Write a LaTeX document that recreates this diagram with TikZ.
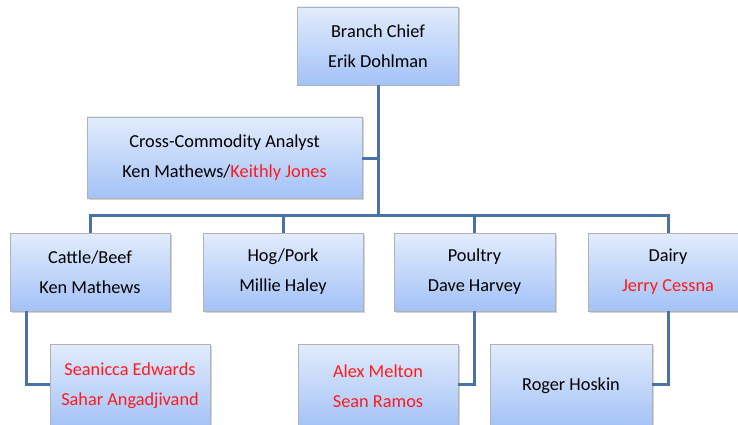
\documentclass[tikz,border=0pt]{standalone}
\usepackage{fontspec}
\setmainfont{Carlito}
\usetikzlibrary{shadows}
\definecolor{boxtop}{HTML}{E2ECFC}
\definecolor{boxbot}{HTML}{A3C2F7}
\definecolor{conn}{HTML}{4A72A8}
\definecolor{redtxt}{HTML}{FF1A1A}
\tikzset{
  x=1pt,y=-1pt,
  orgbox/.style={draw=black!30,line width=0.8pt,top color=boxtop,bottom color=boxbot,
    drop shadow={shadow xshift=1.5pt,shadow yshift=-1.5pt,opacity=0.35},
    inner sep=0pt,align=center,font=\fontsize{18.3}{30}\selectfont},
  link/.style={draw=conn,line width=3pt}
}
\newcommand{\rt}[1]{\textcolor{redtxt}{#1}}
\begin{document}
\begin{tikzpicture}
\useasboundingbox (0,0) rectangle (738,425);
\begin{scope}
\clip (0,0) rectangle (738,425);
\node[orgbox,minimum width=161pt,minimum height=78pt] (chief) at (378,46) {Branch Chief\\Erik Dohlman};
\node[orgbox,minimum width=275pt,minimum height=81pt] (cross) at (224.5,157.5) {Cross-Commodity Analyst\\Ken Mathews/\rt{Keithly Jones}};
\node[orgbox,minimum width=160pt,minimum height=78pt] (cattle) at (90,272) {Cattle/Beef\\Ken Mathews};
\node[orgbox,minimum width=160pt,minimum height=78pt] (hog) at (283,272) {Hog/Pork\\Millie Haley};
\node[orgbox,minimum width=161pt,minimum height=78pt] (poultry) at (474.5,272) {Poultry\\Dave Harvey};
\node[orgbox,minimum width=160pt,minimum height=78pt] (dairy) at (668,272) {Dairy\\\rt{Jerry Cessna}};
\node[orgbox,minimum width=160pt,minimum height=84pt] (sean) at (130,386) {\rt{Seanicca Edwards}\\\rt{Sahar Angadjivand}};
\node[orgbox,minimum width=160pt,minimum height=84pt] (alex) at (378,386) {\rt{Alex Melton}\\\rt{Sean Ramos}};
\node[orgbox,minimum width=162pt,minimum height=84pt] (roger) at (571,386) {Roger Hoskin};
\end{scope}
\coordinate (bar) at (378,215);
\draw[link] (chief.south) -- (bar);
\draw[link] (cross.east |- 0,158) -- (378,158);
\draw[link] (cattle.north) |- (bar) -| (dairy.north);
\draw[link] (hog.north) -- (hog.north |- bar);
\draw[link] (poultry.north) -- (poultry.north |- bar);
\draw[link] (cattle.south -| 26,0) |- (sean.west |- 0,384);
\draw[link] (poultry.south) |- (alex.east |- 0,384);
\draw[link] (dairy.south) |- (roger.east |- 0,384);
\end{tikzpicture}
\end{document}
